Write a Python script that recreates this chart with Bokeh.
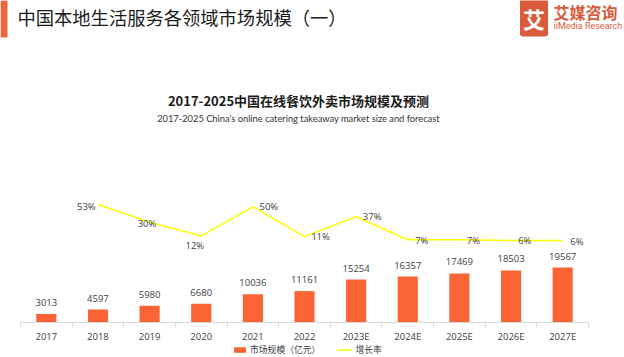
from bokeh.plotting import figure
from bokeh.models import (Range1d, FixedTicker, Label, LabelSet, Legend, LegendItem,
                          ColumnDataSource, BoxAnnotation)
from bokeh.core.properties import value
from bokeh.embed import file_html
from bokeh.resources import INLINE

# ---------------- data ----------------
categories = ["2017", "2018", "2019", "2020", "2021", "2022",
              "2023E", "2024E", "2025E", "2026E", "2027E"]
market_size = [3013, 4597, 5980, 6680, 10036, 11161,
               15254, 16357, 17469, 18503, 19567]
growth_categories = categories[1:]
growth_rate = [53, 30, 12, 50, 11, 37, 7, 7, 6, 6]

title_text = "中国本地生活服务各领域市场规模（一）"
chart_title = "2017-2025中国在线餐饮外卖市场规模及预测"
chart_subtitle = "2017-2025 China's online catering takeaway market size and forecast"
legend_bar = "市场规模（亿元）"
legend_line = "增长率"

# label placement (style only, pixels; dy positive = up)
rate_dx = [-11.6, -2.6, -6.4, 16, 16, 16, 14, 14, 13.8, 14.2]
rate_dy = [-2, -1.4, -10, 0.6, 0, 0, -0.5, -0.5, -0.3, -1]

BAR_COLOR = "#FA6434"
LINE_COLOR = "#FFFF00"
LOGO_COLOR = "#DA5A3C"
TEXT_DARK = "#1A1A1A"
TEXT = "#404040"
CJK = "Noto Sans CJK SC"
NUM = "Open Sans"

W, H = 624, 357
AXIS_Y = 322                    # baseline position in pixels from the top
X0, X1 = 20, 588                # horizontal extent of the category axis
cw = (X1 - X0) / 11.0           # category width in px
kbar = 19567 / 55.0             # bar units per px
n = len(categories)
centers = [i + 0.5 for i in range(n)]
bounds = [float(i) for i in range(n + 1)]
pos = {c: x for c, x in zip(categories, centers)}

p = figure(width=W, height=H, output_backend="svg", toolbar_location=None,
           x_range=Range1d(-X0 / cw, n + (W - X1) / cw),
           y_range=Range1d(-(H - AXIS_Y) * kbar, AXIS_Y * kbar),
           y_axis_location=None,
           min_border_left=0, min_border_right=0, min_border_top=0,
           min_border_bottom=0)
zero_rate = AXIS_Y - 77.4
p.extra_y_ranges = {"rate": Range1d(-(H - zero_rate) / 0.766, zero_rate / 0.766)}
p.outline_line_color = None
p.grid.visible = False
p.background_fill_color = "white"
p.border_fill_color = "white"

# bars
src_bar = ColumnDataSource(dict(x=centers, top=market_size,
                                lab=[str(v) for v in market_size]))
bars = p.vbar(x="x", top="top", width=0.39, source=src_bar,
              fill_color=BAR_COLOR, line_color=None)
p.add_layout(LabelSet(x="x", y="top", text="lab", source=src_bar,
                      text_align="center", text_baseline="middle", y_offset=11.5,
                      text_font=value(NUM), text_font_size="9.5px", text_color=TEXT))

# growth line
src_line = ColumnDataSource(dict(x=[pos[c] for c in growth_categories], y=growth_rate,
                                 lab=[f"{v}%" for v in growth_rate],
                                 dx=rate_dx, dy=rate_dy))
line = p.line(x="x", y="y", source=src_line, y_range_name="rate",
              line_color=LINE_COLOR, line_width=1.5)
p.add_layout(LabelSet(x="x", y="y", text="lab", source=src_line, y_range_name="rate",
                      x_offset="dx", y_offset="dy",
                      text_align="center", text_baseline="middle",
                      text_font=value(NUM), text_font_size="9.5px", text_color=TEXT))

# x axis, pinned at the bar baseline
ax = p.xaxis[0]
ax.fixed_location = 0
ax.bounds = (0, n)
ax.ticker = FixedTicker(ticks=centers, minor_ticks=bounds)
ax.major_label_overrides = {x: c for x, c in zip(centers, categories)}
ax.axis_line_color = "#D9D9D9"
ax.major_tick_line_color = None
ax.major_tick_out = 0
ax.major_tick_in = 0
ax.minor_tick_line_color = "#D9D9D9"
ax.minor_tick_in = 0
ax.minor_tick_out = 5
ax.major_label_standoff = 2
ax.major_label_text_font = NUM
ax.major_label_text_font_size = "9.5px"
ax.major_label_text_color = TEXT

# legend (bottom of the figure, below the axis labels)
legend = Legend(items=[LegendItem(label=legend_bar, renderers=[bars]),
                       LegendItem(label=legend_line, renderers=[line])],
                orientation="horizontal", location=(232, 1),
                padding=0, margin=0, spacing=17, label_standoff=3,
                glyph_width=15, glyph_height=7, label_height=10,
                label_text_font=CJK, label_text_font_size="8.8px",
                label_text_color=TEXT, border_line_color=None,
                background_fill_alpha=0)
p.add_layout(legend, "center")


# header texts (screen units relative to the frame = whole figure)
def sx(px):
    return px


def sy(py):
    return H - py


def put(text, px, py, size, font=CJK, color=TEXT_DARK, align="left", bold=False, **kw):
    lab = Label(x=sx(px), y=sy(py), x_units="screen", y_units="screen", text=text,
                text_font=font, text_font_size=size, text_color=color,
                text_align=align, text_baseline="middle",
                text_font_style="bold" if bold else "normal", **kw)
    p.add_layout(lab)
    return lab


p.add_layout(BoxAnnotation(left=sx(0), right=sx(7), top=sy(0), bottom=sy(37),
                           left_units="screen", right_units="screen",
                           top_units="screen", bottom_units="screen",
                           fill_color="#F0643C", fill_alpha=1, line_color=None))
put(title_text, 17, 16.5, "18.3px")
put("艾", 533.5, 17, "22px", color="white", align="center", bold=True,
    background_fill_color=LOGO_COLOR, padding=3, border_radius=3)
put("艾媒咨询", 553, 11, "16px", color=LOGO_COLOR, bold=True)
put("iiMedia Research", 553, 25, "9px", font="Roboto", color=LOGO_COLOR)
put(chart_title, 298, 99.5, "13px", align="center", bold=True)
put(chart_subtitle, 298, 118, "9.3px", font="Lato", color="#333333", align="center")

open("out.html", "w").write(file_html(p, INLINE))
